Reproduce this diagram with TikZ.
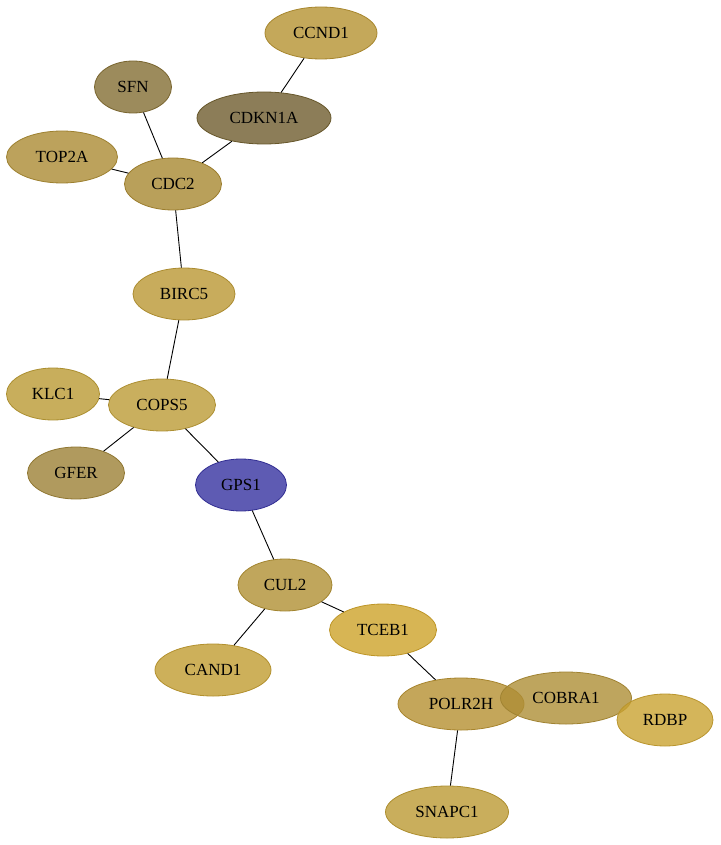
\documentclass[tikz,border=0pt]{standalone}
\usepackage{fontspec}
\setmainfont{Liberation Serif}
\usetikzlibrary{shapes.geometric}
\definecolor{cCCND}{RGB}{181,146,49}
\definecolor{cSFN}{RGB}{131,110,51}
\definecolor{cCDKN}{RGB}{111,93,46}
\definecolor{cTOP}{RGB}{171,139,51}
\definecolor{cCDC}{RGB}{168,136,49}
\definecolor{cBIRC}{RGB}{186,151,51}
\definecolor{cKLC}{RGB}{186,154,51}
\definecolor{cCOPS}{RGB}{188,155,54}
\definecolor{cGFER}{RGB}{156,129,54}
\definecolor{cGPS}{RGB}{54,50,160}
\definecolor{cCUL}{RGB}{176,144,51}
\definecolor{cTCEB}{RGB}{205,162,41}
\definecolor{cCAND}{RGB}{193,156,49}
\definecolor{cPOLR}{RGB}{181,144,49}
\definecolor{cCOBRA}{RGB}{174,142,54}
\definecolor{cRDBP}{RGB}{201,162,49}
\definecolor{cSNAPC}{RGB}{188,154,51}
\begin{document}
\begin{tikzpicture}[x=1pt, y=-1pt, nodeStyle/.style={ellipse, draw=#1!92!black, fill=#1, fill opacity=0.8, text opacity=1, line width=0.8pt, inner sep=0pt, minimum height=52pt, font=\fontsize{17}{20}\selectfont}]
                    \useasboundingbox (0, 0) rectangle (720, 845);

                    \node[nodeStyle=cCCND, minimum width=112pt](ccnd1) at (321, 33) {CCND1};
                    \node[nodeStyle=cSFN, minimum width=77pt](sfn) at (133, 87) {SFN};
                    \node[nodeStyle=cCDKN, minimum width=134pt](cdkn1a) at (264, 118) {CDKN1A};
                    \node[nodeStyle=cTOP, minimum width=111pt](top2a) at (62, 157) {TOP2A};
                    \node[nodeStyle=cCDC, minimum width=97pt](cdc2) at (173, 184) {CDC2};
                    \node[nodeStyle=cBIRC, minimum width=102pt](birc5) at (184, 294) {BIRC5};
                    \node[nodeStyle=cKLC, minimum width=93pt](klc1) at (53, 394) {KLC1};
                    \node[nodeStyle=cCOPS, minimum width=107pt](cops5) at (162, 405) {COPS5};
                    \node[nodeStyle=cGFER, minimum width=97pt](gfer) at (76, 473) {GFER};
                    \node[nodeStyle=cGPS, minimum width=91pt](gps1) at (241, 485) {GPS1};
                    \node[nodeStyle=cCUL, minimum width=94pt](cul2) at (285, 585) {CUL2};
                    \node[nodeStyle=cTCEB, minimum width=107pt](tceb1) at (383, 630) {TCEB1};
                    \node[nodeStyle=cCAND, minimum width=116pt](cand1) at (213, 670) {CAND1};
                    \node[nodeStyle=cPOLR, minimum width=126pt](polr2h) at (461, 704) {POLR2H};
                    \node[nodeStyle=cCOBRA, minimum width=131pt](cobra1) at (566, 698) {COBRA1};
                    \node[nodeStyle=cRDBP, minimum width=96pt](rdbp) at (665, 720) {RDBP};
                    \node[nodeStyle=cSNAPC, minimum width=123pt](snapc1) at (447, 812) {SNAPC1};

                    \draw[line width=0.9pt] (ccnd1) -- (cdkn1a);
                    \draw[line width=0.9pt] (sfn) -- (cdc2);
                    \draw[line width=0.9pt] (cdkn1a) -- (cdc2);
                    \draw[line width=0.9pt] (top2a) -- (cdc2);
                    \draw[line width=0.9pt] (cdc2) -- (birc5);
                    \draw[line width=0.9pt] (birc5) -- (cops5);
                    \draw[line width=0.9pt] (klc1) -- (cops5);
                    \draw[line width=0.9pt] (cops5) -- (gfer);
                    \draw[line width=0.9pt] (cops5) -- (gps1);
                    \draw[line width=0.9pt] (gps1) -- (cul2);
                    \draw[line width=0.9pt] (cul2) -- (cand1);
                    \draw[line width=0.9pt] (cul2) -- (tceb1);
                    \draw[line width=0.9pt] (tceb1) -- (polr2h);
                    \draw[line width=0.9pt] (polr2h) -- (snapc1);
                \end{tikzpicture}
\end{document}
